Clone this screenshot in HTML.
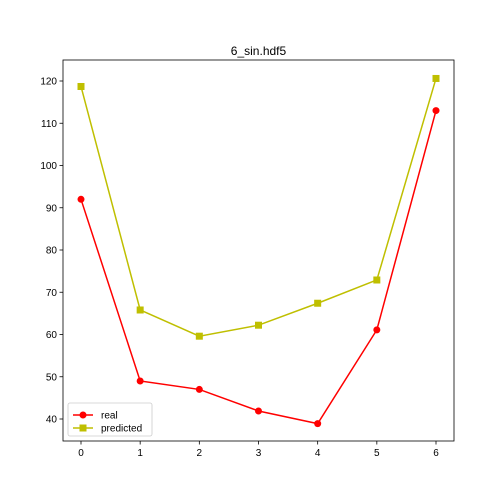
<!DOCTYPE html>
<html><head><meta charset="utf-8"><style>
body{margin:0;background:#fff}
svg{display:block;font-family:"Liberation Sans","DejaVu Sans",sans-serif}
</style></head><body>
<svg id="chart" width="504" height="504" xmlns="http://www.w3.org/2000/svg"></svg>
<script>
const categories=[0,1,2,3,4,5,6];
const realValues=[92,49,47,41.9,38.9,61.1,113];
const predictedValues=[118.7,65.8,59.6,62.2,67.4,72.9,120.6];
const yTicks=[40,50,60,70,80,90,100,110,120];
const xTicks=[0,1,2,3,4,5,6];
const NS="http://www.w3.org/2000/svg";
const svg=document.getElementById('chart');
const L=63,R=454,T=60,B=441;
function xs(v){return 81+(v-0)*(436-81)/6;}
function ys(v){return 419-(v-40)*(419-81)/80;}
function mk(tag,attrs,parent){const e=document.createElementNS(NS,tag);for(const k in attrs)e.setAttribute(k,attrs[k]);(parent||svg).appendChild(e);return e;}
const title=mk('text',{x:(L+R)/2,y:55,'text-anchor':'middle','font-size':12});
title.textContent='6_sin.hdf5';


yTicks.forEach(v=>{
  const y=ys(v);
  const tk=mk('line',{x1:L-3.5,x2:L,y1:y,y2:y,stroke:'#000','stroke-width':0.8});
  
  
  const t=mk('text',{x:L-6,y:y+3.5,'text-anchor':'end','font-size':10});
  t.textContent=v;
  
  
});
xTicks.forEach(v=>{
  const x=xs(v);
  const tk=mk('line',{x1:x,x2:x,y1:B,y2:B+3.5,stroke:'#000','stroke-width':0.8});
  
  
  const t=mk('text',{x:x,y:B+15,'text-anchor':'middle','font-size':10});
  t.textContent=v;
  
  
});
function series(vals,color,marker,name){
  const g=mk('g',{});
  
  
  const pts=vals.map((v,i)=>xs(categories[i])+','+ys(v)).join(' ');
  const pl=mk('polyline',{points:pts,fill:'none',stroke:color,'stroke-width':1.5},g);
  
  
  vals.forEach((v,i)=>{
    const x=xs(categories[i]),y=ys(v);
    let m;
    if(marker==='o')m=mk('circle',{cx:x,cy:y,r:3.5,fill:color},g);
    else m=mk('rect',{x:x-3.5,y:y-3.5,width:7,height:7,fill:color},g);
    
    
  });
}
series(realValues,'#ff0000','o','real');
series(predictedValues,'#bfbf00','s','predicted');
const frame=mk('rect',{x:L,y:T,width:R-L,height:B-T,fill:'none',stroke:'#000','stroke-width':0.8});


const lg=mk('g',{});


mk('rect',{x:68,y:403,width:84,height:33,rx:2,fill:'#fff',stroke:'#ccc','stroke-width':0.8},lg);
[['real','#ff0000','o',415],['predicted','#bfbf00','s',428]].forEach(([n,c,m,y])=>{
  const e=mk('g',{},lg);
  
  
  mk('line',{x1:73,x2:93,y1:y,y2:y,stroke:c,'stroke-width':1.5},e);
  if(m==='o')mk('circle',{cx:83,cy:y,r:3.5,fill:c},e);else mk('rect',{x:79.5,y:y-3.5,width:7,height:7,fill:c},e);
  const t=mk('text',{x:101,y:y+3.5,'font-size':10},e);t.textContent=n;
});
</script>
</body></html>
